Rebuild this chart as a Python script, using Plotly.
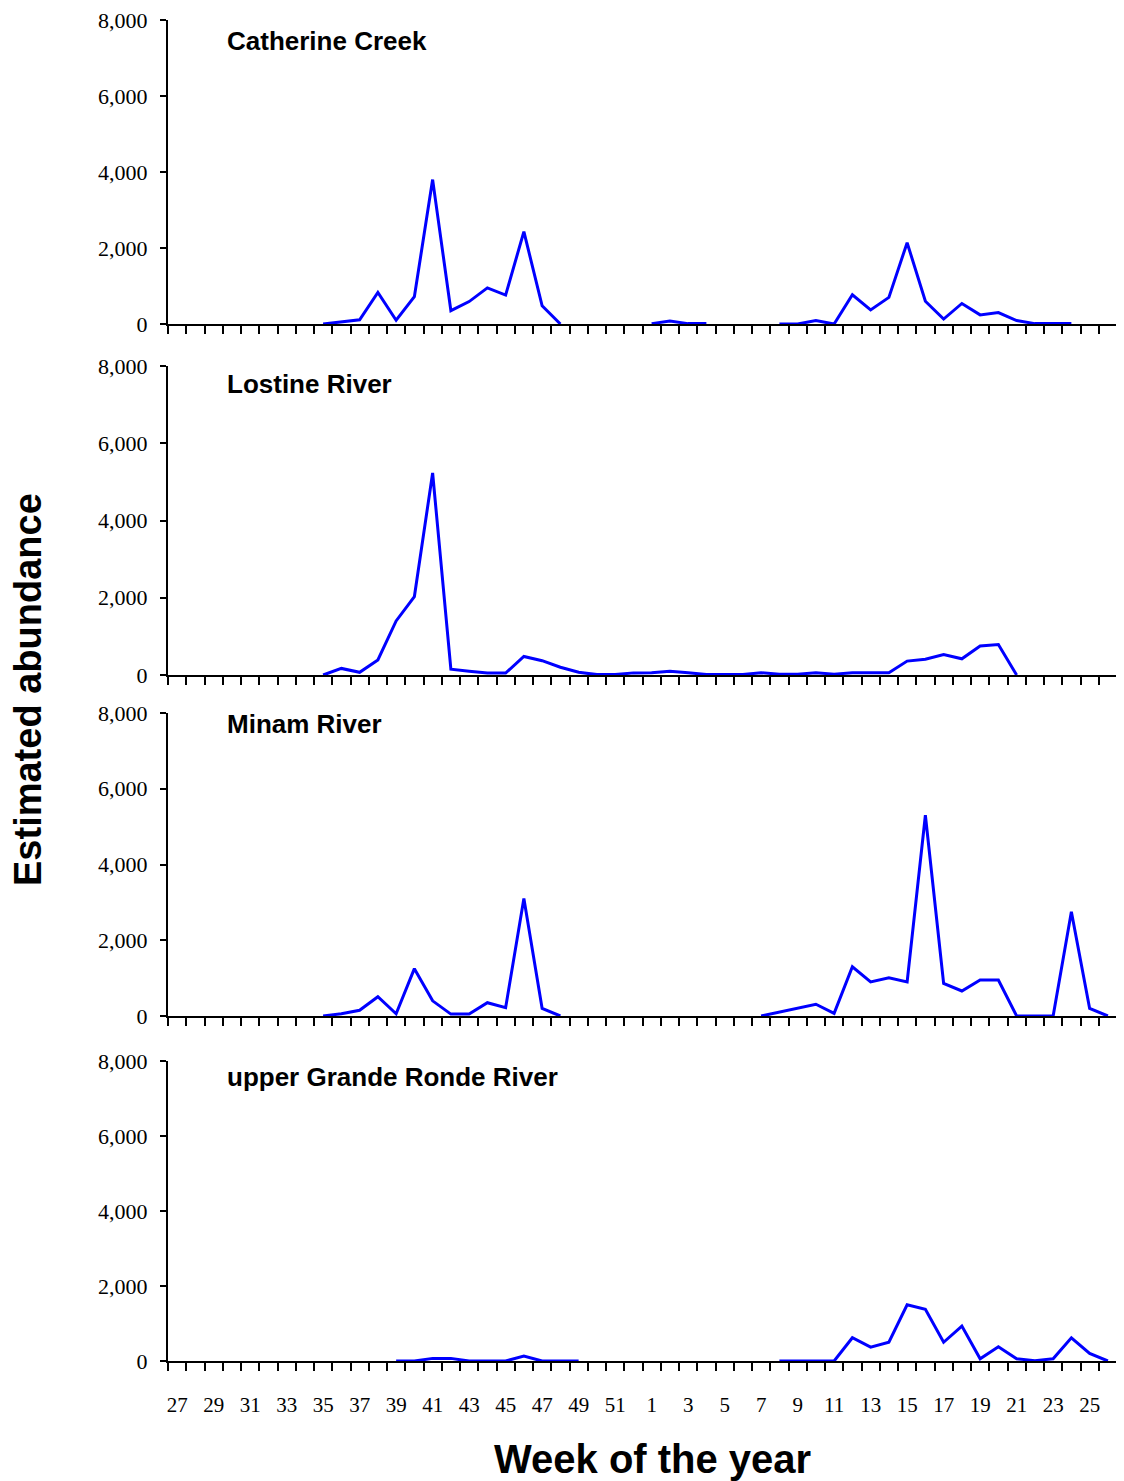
import plotly.graph_objects as go

weeks = list(range(27, 53)) + list(range(1, 27))
N = None

# values per week (27..52, 1..26); None = no data
catherine = ([N]*8 + [0, 60, 110, 830, 100, 720, 3800, 350, 590, 950, 760, 2430, 480, 0] + [N]*4 +
             [10, 80, 10, 10] + [N]*3 +
             [0, 0, 90, 0, 770, 370, 700, 2140, 600, 130, 540, 240, 300, 90, 10, 10, 10] + [N]*2)
lostine = ([N]*8 + [0, 170, 70, 390, 1400, 2030, 5230, 150, 100, 50, 50, 480, 370, 200, 70, 10, 10, 55] +
           [60, 100, 60, 10, 10, 10, 60, 20, 20, 60, 20, 60, 60, 60, 360, 410, 530, 420, 750, 790, 0] + [N]*5)
minam = ([N]*8 + [0, 60, 150, 510, 60, 1250, 400, 50, 50, 350, 220, 3100, 200, 0] + [N]*4 +
         [N]*6 + [0, 100, 200, 310, 70, 1300, 900, 1010, 900, 5300, 860, 660, 950, 950, 0, 0, 0, 2750, 200, 0])
grande = ([N]*12 + [0, 0, 70, 70, 0, 0, 0, 130, 0, 0, 0] + [N]*3 +
          [N]*7 + [0, 0, 0, 0, 620, 370, 500, 1500, 1380, 500, 930, 60, 380, 60, 10, 60, 620, 200, 0])

series = [("Catherine Creek", catherine), ("Lostine River", lostine),
          ("Minam River", minam), ("upper Grande Ronde River", grande)]

y_ticks = [0, 2000, 4000, 6000, 8000]
x_label_idx = list(range(0, len(weeks), 2))
x_labels = [str(weeks[i]) for i in x_label_idx]

OFF = 8  # page body margin
W, H = 1124 - OFF, 1481 - OFF
ml = 168 - OFF
mt = 20 - OFF
plot_right = 1117 - OFF
plot_bottom = 1361 - OFF
mr = W - plot_right
mb = H - plot_bottom
pw = plot_right - ml
ph = plot_bottom - mt
# panel pixel tops/bottoms in reference page coords (y of 8000, y of 0)
panels_px = [(20, 324), (366, 675), (713, 1016), (1061, 1361)]
title_px = [41, 384, 724, 1077]

def py(p):
    return (plot_bottom - (p - OFF)) / ph

def px(p):
    return ((p - OFF) - ml) / pw

fig = go.Figure()
layout = dict(width=W, height=H, margin=dict(l=ml, r=mr, t=mt, b=mb, autoexpand=False),
              paper_bgcolor="white", plot_bgcolor="white", showlegend=False)
annotations = []
xs = list(range(len(weeks)))
for k, (name, vals) in enumerate(series):
    n = k + 1
    xa = "x" if n == 1 else f"x{n}"
    ya = "y" if n == 1 else f"y{n}"
    fig.add_trace(go.Scatter(x=xs, y=vals, mode="lines", xaxis=xa, yaxis=ya,
                             line=dict(color="#0000FF", width=3), connectgaps=False,
                             hoverinfo="skip"))
    top, bot = panels_px[k]
    last = (k == 3)
    layout["xaxis" if n == 1 else f"xaxis{n}"] = dict(
        domain=[0, 1], anchor=ya, range=[-0.5, len(weeks) - 0.5],
        showgrid=False, zeroline=False, showline=True, linecolor="black", linewidth=2,
        tickmode="array", tickvals=x_label_idx, ticktext=x_labels, ticks="",
        showticklabels=last, ticklabelstandoff=24, ticklabeloverflow="allow",
        tickfont=dict(family="Liberation Serif", size=21, color="black"),
        minor=dict(tickmode="linear", tick0=-0.5, dtick=1, ticks="outside",
                   ticklen=8, tickwidth=1.5, tickcolor="black", showgrid=False),
        fixedrange=True)
    layout["yaxis" if n == 1 else f"yaxis{n}"] = dict(
        domain=[py(bot), min(1.0, py(top))], anchor=xa, range=[0, 8000],
        showgrid=False, zeroline=False, showline=True, linecolor="black", linewidth=2,
        tickmode="array", tickvals=y_ticks, tickformat=",d", ticks="outside",
        ticklen=6, tickwidth=1.5, tickcolor="black", ticklabelstandoff=8,
        ticklabeloverflow="allow",
        tickfont=dict(family="Liberation Serif", size=22, color="black"),
        fixedrange=True)
    annotations.append(dict(text=f"<b>{name}</b>", xref="paper", yref="paper",
                            x=px(225), y=py(title_px[k]),
                            xanchor="left", yanchor="middle", showarrow=False,
                            font=dict(family="Liberation Sans", size=26, color="black")))

annotations.append(dict(text="<b>Estimated abundance</b>", xref="paper", yref="paper",
                        x=px(28), y=py(690), textangle=-90,
                        xanchor="center", yanchor="middle", showarrow=False,
                        font=dict(family="Liberation Sans", size=38, color="black")))
annotations.append(dict(text="<b>Week of the year</b>", xref="paper", yref="paper",
                        x=px(652), y=py(1459),
                        xanchor="center", yanchor="middle", showarrow=False,
                        font=dict(family="Liberation Sans", size=40, color="black")))
layout["annotations"] = annotations
fig.update_layout(**layout)
fig.write_html("out.html")
